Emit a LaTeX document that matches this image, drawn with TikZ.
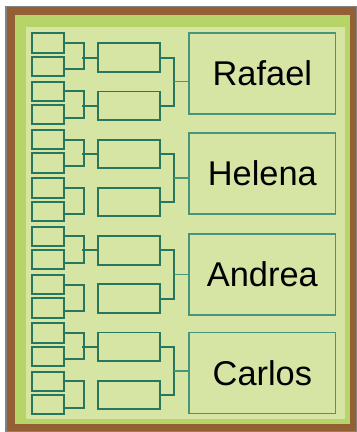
\documentclass[tikz,border=0pt]{standalone}
\usepackage{fontspec}
\setmainfont{Liberation Sans}
\usetikzlibrary{calc}
\definecolor{pale}{RGB}{214,228,164}
\definecolor{band}{RGB}{182,212,104}
\definecolor{framebrown}{RGB}{146,96,52}
\definecolor{edgegray}{RGB}{130,130,130}
\definecolor{tealdark}{RGB}{38,118,96}
\definecolor{teallight}{RGB}{72,150,122}
\tikzset{
 smallbox/.style={draw=tealdark,line width=1.9bp,fill=pale,minimum width=31.7bp,minimum height=19.3bp,inner sep=0pt,anchor=north west},
 roundbox/.style={draw=tealdark,line width=1.9bp,fill=pale,minimum width=61.4bp,minimum height=28.5bp,inner sep=0pt,anchor=north west},
 bigbox/.style={draw=teallight,line width=1.4bp,fill=pale,minimum width=146.7bp,minimum height=81bp,inner sep=0pt,anchor=north west,font=\fontsize{34.5}{40}\selectfont},
 link/.style={draw=tealdark,line width=2bp},
 biglink/.style={draw=teallight,line width=1.5bp}
}
\begin{document}
\begin{tikzpicture}[x=1bp,y=-1bp]
\fill[white] (0,0) rectangle (357,432);
\useasboundingbox (0,0) rectangle (357,432);
% frame
\fill[edgegray] (5,6) rectangle (357,432);
\fill[framebrown] (6.5,7) rectangle (355.5,431);
\fill[band] (15,15) rectangle (350,424);
\fill[pale] (26,27) rectangle (345,419);
% first round: pairs of small boxes
\foreach \k in {0,...,7}{
  \pgfmathsetmacro\t{32.3+48.34*\k}
  \node[smallbox] (a\k) at (31,\t) {};
  \node[smallbox] (b\k) at (31,\t+23.4) {};
  \draw[link] (a\k.east) -- ++(19,0) |- ([yshift=-3bp]b\k.east);
  \pgfmathsetmacro\r{42.3+48.2*\k}
  \node[roundbox] (r\k) at (97.3,\r) {};
}
\foreach \k in {0,1,2,4,6}{
  \draw[link] (r\k.west) -- ++(-15.6,0);
}
% final boxes
\foreach \j/\a/\b/\top/\name in {0/0/1/32.3/Rafael,1/2/3/132.3/Helena,2/4/5/233.3/Andrea,3/6/7/331.7/Carlos}{
  \node[bigbox] (B\j) at (188.3,\top) {\name};
  \draw[link] (r\a.east) -- ++(13,0) |- (r\b.east);
  \coordinate (m\j) at ($(r\a.east)!0.5!(r\b.east)+(13,0)$);
  \draw[biglink] (m\j) -- (m\j -| B\j.west);
}
\end{tikzpicture}
\end{document}
